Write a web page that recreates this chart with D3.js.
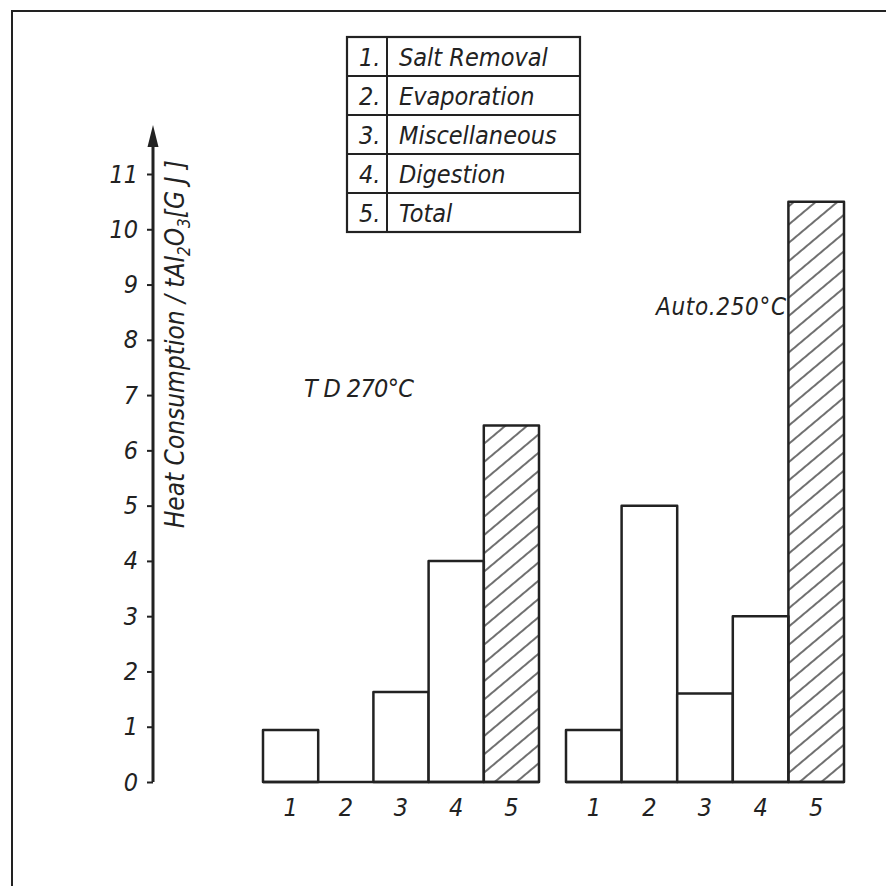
<!DOCTYPE html>
<html>
<head>
<meta charset="utf-8">
<script src="https://cdn.jsdelivr.net/npm/d3@7"></script>
<style>
  body { margin: 0; background: #fff; }
  svg text { font-family: "DejaVu Sans Condensed", "DejaVu Sans", sans-serif; font-style: italic; fill: #222; }
</style>
</head>
<body>
<svg id="chart" width="886" height="886"></svg>
<script>
// values
const categories = ["1", "2", "3", "4", "5"];
const legendNames = ["Salt Removal", "Evaporation", "Miscellaneous", "Digestion", "Total"];
const tdValues = [0.94, 0, 1.63, 4.0, 6.45];     // TD 270°C
const autoValues = [0.94, 5.0, 1.6, 3.0, 10.5];  // Auto. 250°C
const yTicks = [0, 1, 2, 3, 4, 5, 6, 7, 8, 9, 10, 11];

const svg = d3.select("svg#chart");
const ink = "#222";

// paper frame (top + left edges visible)
svg.append("path")
   .attr("d", "M12,886 L12,11 L886,11")
   .attr("fill", "none").attr("stroke", ink).attr("stroke-width", 2);

// hatch pattern for the totals
const defs = svg.append("defs");
defs.append("pattern")
    .attr("id", "hatch")
    .attr("patternUnits", "userSpaceOnUse")
    .attr("width", 14).attr("height", 14)
    .attr("patternTransform", "rotate(-40)")
  .append("line")
    .attr("x1", 0).attr("y1", 7).attr("x2", 14).attr("y2", 7)
    .attr("stroke", ink).attr("stroke-width", 1.3);

// scales
const y = d3.scaleLinear().domain([0, 11]).range([782, 174]);
const xTD = d3.scaleBand().domain(categories).range([263, 539]).padding(0);
const xAuto = d3.scaleBand().domain(categories).range([566, 844]).padding(0);

// y axis
const axisX = 153;
const yAxis = svg.append("g")
    .attr("transform", `translate(${axisX},0)`)
    .call(d3.axisLeft(y).tickValues(yTicks).tickSize(6).tickSizeOuter(0).tickPadding(9));
yAxis.select(".domain").remove();
yAxis.selectAll(".tick line").attr("stroke", ink).attr("stroke-width", 2);
yAxis.selectAll(".tick text")
     .attr("font-size", 25).attr("fill", ink)
     .style("font-family", "'DejaVu Sans Condensed', sans-serif").style("font-style", "italic");

svg.append("line")
   .attr("x1", axisX).attr("y1", y(0)).attr("x2", axisX).attr("y2", 145)
   .attr("stroke", ink).attr("stroke-width", 3);
svg.append("path")
   .attr("d", `M${axisX},125 L${axisX - 5.5},147 L${axisX + 5.5},147 Z`)
   .attr("fill", ink);

// y axis title
const yTitle = svg.append("text")
    .attr("transform", `translate(184,160) rotate(-90)`)
    .attr("text-anchor", "end")
    .attr("font-size", 26);
yTitle.append("tspan").text("Heat Consumption / tAl");
yTitle.append("tspan").attr("font-size", 17).attr("dy", 6).text("2");
yTitle.append("tspan").attr("dy", -6).text("O");
yTitle.append("tspan").attr("font-size", 17).attr("dy", 6).text("3");
yTitle.append("tspan").attr("dy", -6).text("[G J ]");

// bars
function drawGroup(x, values) {
  const g = svg.append("g");
  g.selectAll("rect.bar")
    .data(values)
    .join("rect")
    .attr("class", "bar")
    .attr("x", (d, i) => x(categories[i]))
    .attr("y", d => y(d))
    .attr("width", x.bandwidth())
    .attr("height", d => y(0) - y(d))
    .attr("fill", (d, i) => i === 4 ? "url(#hatch)" : "#fff")
    .attr("stroke", ink)
    .attr("stroke-width", 2.5)
    .attr("stroke-linejoin", "round");

  // common base line
  g.append("line")
    .attr("x1", x.range()[0]).attr("x2", x.range()[1])
    .attr("y1", y(0)).attr("y2", y(0))
    .attr("stroke", ink).attr("stroke-width", 2.5);

  const ax = g.append("g")
    .attr("transform", `translate(0,${y(0)})`)
    .call(d3.axisBottom(x).tickSize(0).tickPadding(16));
  ax.select(".domain").remove();
  ax.selectAll(".tick text")
    .attr("font-size", 25).attr("fill", ink)
    .style("font-family", "'DejaVu Sans Condensed', sans-serif").style("font-style", "italic");
}
drawGroup(xTD, tdValues);
drawGroup(xAuto, autoValues);

// group labels
svg.append("text").attr("x", 304).attr("y", 397)
   .attr("font-size", 25).attr("textLength", 110)
   .text("T D  270°C");
svg.append("text").attr("x", 656).attr("y", 315)
   .attr("font-size", 24).attr("textLength", 130)
   .text("Auto.250°C");

// legend table
const legX0 = 347, legX1 = 580, legDiv = 387;
const legY = d3.scaleBand().domain(legendNames).range([37, 232]);
const legend = svg.append("g");
legend.append("rect")
  .attr("x", legX0).attr("y", legY.range()[0])
  .attr("width", legX1 - legX0).attr("height", legY.range()[1] - legY.range()[0])
  .attr("fill", "#fff").attr("stroke", ink).attr("stroke-width", 2.2);
legend.append("line")
  .attr("x1", legDiv).attr("x2", legDiv)
  .attr("y1", legY.range()[0]).attr("y2", legY.range()[1])
  .attr("stroke", ink).attr("stroke-width", 2);
legend.selectAll("line.row")
  .data(legendNames.slice(1))
  .join("line").attr("class", "row")
  .attr("x1", legX0).attr("x2", legX1)
  .attr("y1", d => legY(d)).attr("y2", d => legY(d))
  .attr("stroke", ink).attr("stroke-width", 2);
legend.selectAll("text.num")
  .data(legendNames)
  .join("text").attr("class", "num")
  .attr("x", legX0 + 12)
  .attr("y", d => legY(d) + legY.bandwidth() / 2)
  .attr("dy", "0.36em")
  .attr("font-size", 25)
  .text((d, i) => (i + 1) + ".");
legend.selectAll("text.name")
  .data(legendNames)
  .join("text").attr("class", "name")
  .attr("x", legDiv + 12)
  .attr("y", d => legY(d) + legY.bandwidth() / 2)
  .attr("dy", "0.36em")
  .attr("font-size", 25)
  .text(d => d);
</script>
</body>
</html>
